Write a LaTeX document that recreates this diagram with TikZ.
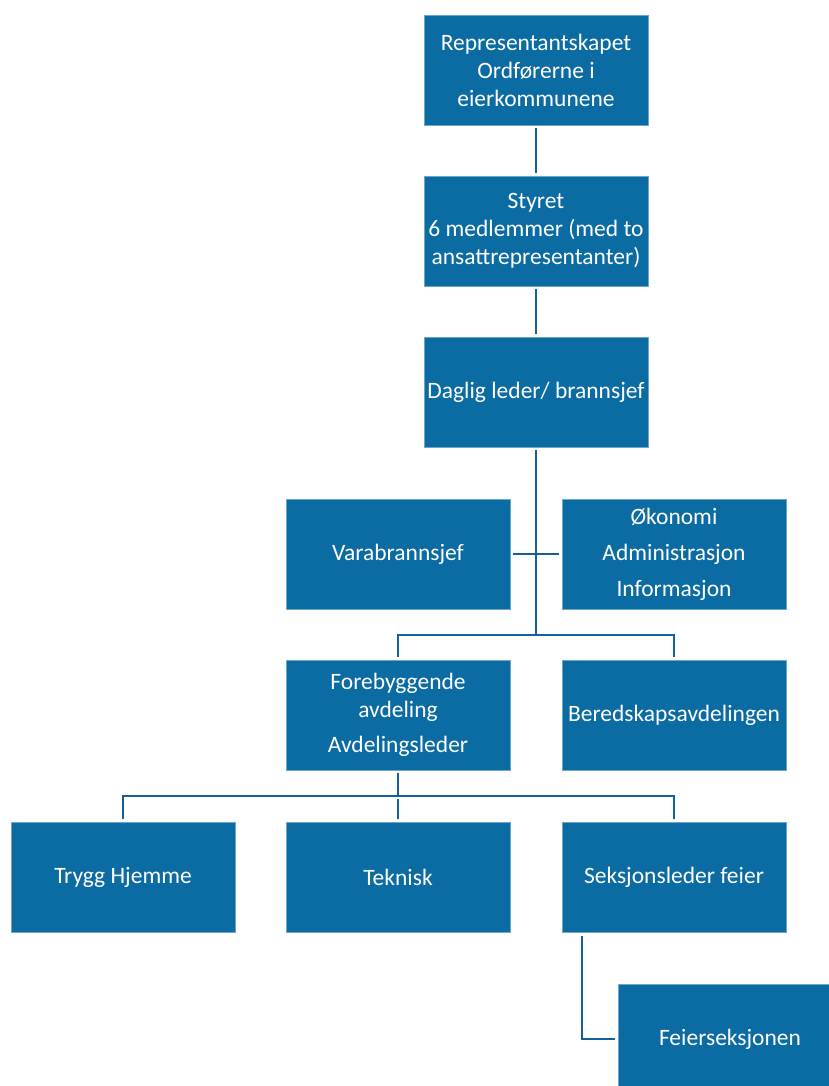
\documentclass[tikz,border=0pt]{standalone}
\usepackage{fontspec}
\setmainfont{Carlito}
\definecolor{boxblue}{HTML}{0B6BA3}
\definecolor{lineblue}{HTML}{14609A}
\begin{document}
\begin{tikzpicture}[x=1pt,y=-1pt,
  orgbox/.style={fill=boxblue, draw=boxblue!60!white, line width=0.6pt, minimum width=224pt, minimum height=110pt,
    inner sep=0pt, align=center, text=white, font=\fontsize{23.5}{28}\selectfont},
  conn/.style={draw=lineblue, line width=2.6pt},
  fromb/.style={shorten <=3pt},
  tob/.style={shorten >=3pt}]
\useasboundingbox (0,0) rectangle (829,1086);
\node[orgbox] (rep) at (536,70) {Representantskapet\\Ordførerne i\\eierkommunene};
\node[orgbox] (sty) at (536,231) {Styret\\6 medlemmer (med to\\ansattrepresentanter)};
\node[orgbox] (dag) at (536,392) {Daglig leder/ brannsjef};
\node[orgbox] (vara) at (398,554) {Varabrannsjef};
\node[orgbox] (oko) at (674,554) {Økonomi\\[8pt]Administrasjon\\[8pt]Informasjon};
\node[orgbox] (fore) at (398,715) {Forebyggende\\avdeling\\[7pt]Avdelingsleder};
\node[orgbox] (bered) at (674,715) {Beredskapsavdelingen};
\node[orgbox] (trygg) at (123,877) {Trygg Hjemme};
\node[orgbox] (tek) at (398,877) {Teknisk};
\node[orgbox] (seks) at (674,877) {Seksjonsleder feier};
\node[orgbox] (feier) at (730,1039) {Feierseksjonen};
\coordinate (bus1) at (536,635);
\coordinate (bus2) at (398,796);
\coordinate (sk) at (582,933);
\draw[conn, fromb, tob] (rep.south) -- (sty.north);
\draw[conn, fromb, tob] (sty.south) -- (dag.north);
\draw[conn, fromb] (dag.south) -- (bus1);
\draw[conn, fromb, tob] (vara.east) -- (oko.west);
\draw[conn, fromb] (fore.north) |- (bus1);
\draw[conn, fromb] (bered.north) |- (bus1);
\draw[conn, fromb] (fore.south) -- (bus2);
\draw[conn, fromb] (trygg.north) |- (bus2);
\draw[conn, fromb] (seks.north) |- (bus2);
\draw[conn, fromb, tob] (tek.north) -- (bus2);
\draw[conn, fromb, tob] (sk) |- (feier.west);
\end{tikzpicture}
\end{document}
